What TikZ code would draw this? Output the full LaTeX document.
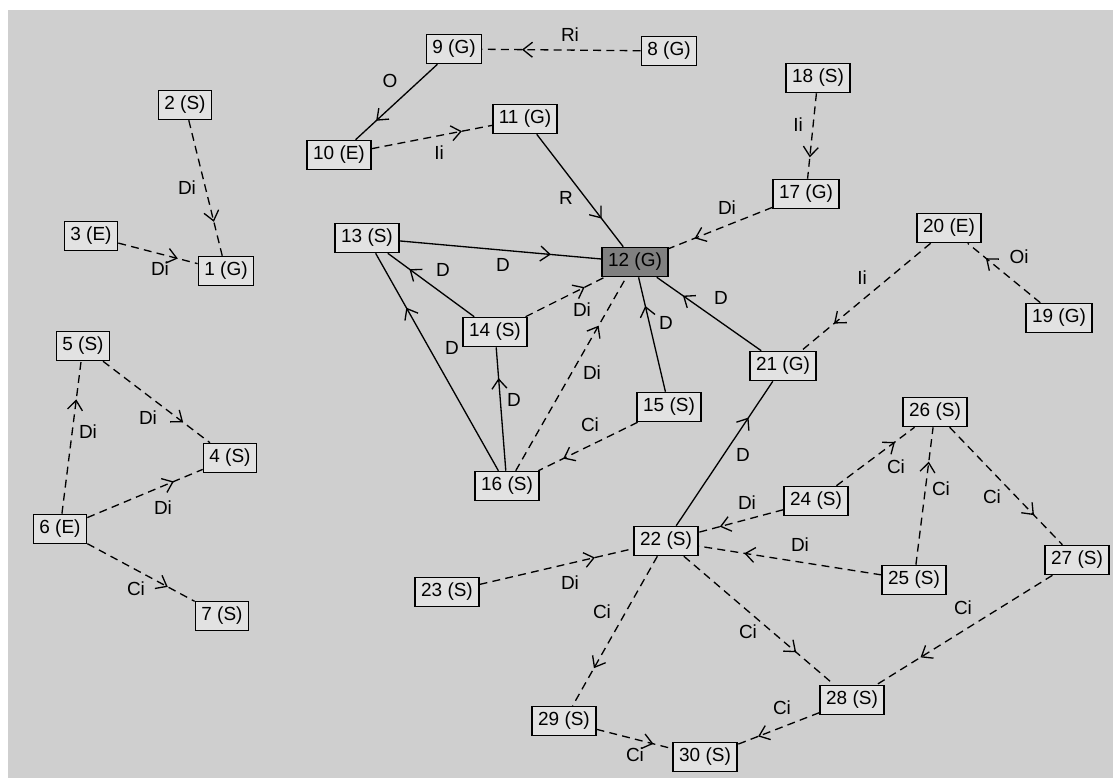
\documentclass[tikz,border=0pt]{standalone}
\usepackage{fontspec}
\setmainfont{Liberation Sans}
\usetikzlibrary{arrows.meta,decorations.markings}
\definecolor{canvas}{HTML}{CFCFCF}
\definecolor{boxfill}{HTML}{E2E2E2}
\definecolor{goalfill}{HTML}{808080}
\tikzset{
  >={Straight Barb[length=1.9mm,width=3mm]},
  task/.style={draw, fill=boxfill, line width=0.9pt, inner xsep=3.4pt, inner ysep=0pt, minimum height=5.8mm, font=\fontsize{10.8}{12}\selectfont},
  goal/.style={task, fill=goalfill},
  link/.style={line width=0.75pt, postaction={decorate}, decoration={markings, mark=at position 0.75 with {\arrow{>}}}},
  dlink/.style={link, dash pattern=on 4.5pt off 3pt},
  lbl/.style={inner sep=0pt, font=\fontsize{10.8}{12}\selectfont},
}

\begin{document}
\begin{tikzpicture}[x=0.02cm, y=-0.02cm]
  \useasboundingbox (0,0) rectangle (1113,778);
  \fill[white] (0,0) rectangle (1113,778);
  \fill[canvas] (8,10) rectangle (1113,778);

  % tasks
  \node[task] (n1) at (226,271) {1 (G)};
  \node[task] (n2) at (185,105) {2 (S)};
  \node[task] (n3) at (91,236) {3 (E)};
  \node[task] (n4) at (230,458) {4 (S)};
  \node[task] (n5) at (83,346) {5 (S)};
  \node[task] (n6) at (60,529) {6 (E)};
  \node[task] (n7) at (222,616) {7 (S)};
  \node[task] (n8) at (669,51) {8 (G)};
  \node[task] (n9) at (454,49) {9 (G)};
  \node[task] (n10) at (339,155) {10 (E)};
  \node[task] (n11) at (525,119) {11 (G)};
  \node[goal] (n12) at (635,262) {12 (G)};
  \node[task] (n13) at (367,238) {13 (S)};
  \node[task] (n14) at (495,332) {14 (S)};
  \node[task] (n15) at (669,407) {15 (S)};
  \node[task] (n16) at (507,486) {16 (S)};
  \node[task] (n17) at (806,194) {17 (G)};
  \node[task] (n18) at (818,78) {18 (S)};
  \node[task] (n19) at (1059,318) {19 (G)};
  \node[task] (n20) at (949,228) {20 (E)};
  \node[task] (n21) at (783,366) {21 (G)};
  \node[task] (n22) at (666,541) {22 (S)};
  \node[task] (n23) at (447,592) {23 (S)};
  \node[task] (n24) at (816,501) {24 (S)};
  \node[task] (n25) at (914,580) {25 (S)};
  \node[task] (n26) at (935,412) {26 (S)};
  \node[task] (n27) at (1077,560) {27 (S)};
  \node[task] (n28) at (852,700) {28 (S)};
  \node[task] (n29) at (564,721) {29 (S)};
  \node[task] (n30) at (705,757) {30 (S)};

  % left clusters
  \draw[dlink] (n2) -- (n1);
  \draw[dlink] (n3) -- (n1);
  \draw[dlink] (n5) -- (n4);
  \draw[dlink] (n6) -- (n5);
  \draw[dlink] (n6) -- (n4);
  \draw[dlink] (n6) -- (n7);

  % around 12
  \draw[dlink] (n8) -- (n9);
  \draw[link] (n9) -- (n10);
  \draw[dlink] (n10) -- (n11);
  \draw[link] (n11) -- (n12);
  \draw[link] (n13) -- (n12);
  \draw[link] (n14) -- (n13);
  \draw[dlink] (n14) -- (n12);
  \draw[link] (n16) -- (n13);
  \draw[link] (n16) -- (n14);
  \draw[dlink] (n16) -- (n12);
  \draw[link] (n15) -- (n12);
  \draw[dlink] (n15) -- (n16);
  \draw[dlink] (n17) -- (n12);
  \draw[dlink] (n18) -- (n17);
  \draw[dlink] (n19) -- (n20);
  \draw[dlink] (n20) -- (n21);
  \draw[link] (n21) -- (n12);

  % lower right
  \draw[link] (n22) -- (n21);
  \draw[dlink] (n24) -- (n22);
  \draw[dlink] (n25) -- (n22);
  \draw[dlink] (n23) -- (n22);
  \draw[dlink] (n22) -- (n29);
  \draw[dlink] (n22) -- (n28);
  \draw[dlink] (n24) -- (n26);
  \draw[dlink] (n25) -- (n26);
  \draw[dlink] (n26) -- (n27);
  \draw[dlink] (n27) -- (n28);
  \draw[dlink] (n28) -- (n30);
  \draw[dlink] (n29) -- (n30);

  % relation labels
  \node[lbl] (l2-1) at (187,188) {Di};
  \node[lbl] (l3-1) at (160,269) {Di};
  \node[lbl] (l5-4) at (148,418) {Di};
  \node[lbl] (l6-5) at (88,432) {Di};
  \node[lbl] (l6-4) at (163,508) {Di};
  \node[lbl] (l6-7) at (136,589) {Ci};
  \node[lbl] (l8-9) at (570,35) {Ri};
  \node[lbl] (l9-10) at (390,81) {O};
  \node[lbl] (l10-11) at (439,153) {Ii};
  \node[lbl] (l11-12) at (566,198) {R};
  \node[lbl] (l13-12) at (503,265) {D};
  \node[lbl] (l14-13) at (443,270) {D};
  \node[lbl] (l14-12) at (582,310) {Di};
  \node[lbl] (l16-13) at (452,348) {D};
  \node[lbl] (l16-14) at (514,400) {D};
  \node[lbl] (l16-12) at (592,373) {Di};
  \node[lbl] (l15-12) at (666,323) {D};
  \node[lbl] (l15-16) at (590,425) {Ci};
  \node[lbl] (l17-12) at (727,208) {Di};
  \node[lbl] (l18-17) at (798,125) {Ii};
  \node[lbl] (l19-20) at (1019,257) {Oi};
  \node[lbl] (l20-21) at (862,278) {Ii};
  \node[lbl] (l21-12) at (721,298) {D};
  \node[lbl] (l22-21) at (743,455) {D};
  \node[lbl] (l24-22) at (747,503) {Di};
  \node[lbl] (l25-22) at (800,545) {Di};
  \node[lbl] (l23-22) at (570,583) {Di};
  \node[lbl] (l22-29) at (602,612) {Ci};
  \node[lbl] (l22-28) at (748,632) {Ci};
  \node[lbl] (l24-26) at (896,467) {Ci};
  \node[lbl] (l25-26) at (941,489) {Ci};
  \node[lbl] (l26-27) at (992,497) {Ci};
  \node[lbl] (l27-28) at (963,608) {Ci};
  \node[lbl] (l28-30) at (782,708) {Ci};
  \node[lbl] (l29-30) at (635,755) {Ci};
\end{tikzpicture}
\end{document}
